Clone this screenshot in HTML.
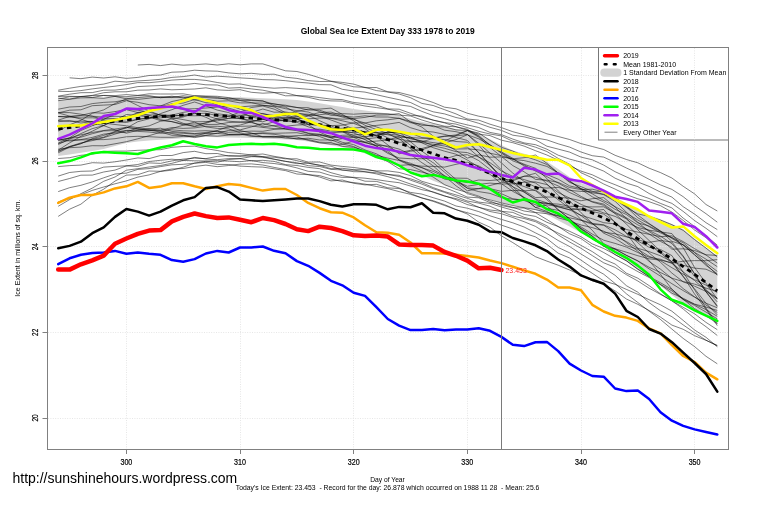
<!DOCTYPE html>
<html><head><meta charset="utf-8"><title>Global Sea Ice Extent Day 333 1978 to 2019</title>
<style>html,body{margin:0;padding:0;background:#fff;}svg{display:block;}text{white-space:pre;}</style></head>
<body><svg width="759" height="505" viewBox="0 0 759 505" font-family="Liberation Sans, Arial, sans-serif">
<rect x="0" y="0" width="759" height="505" fill="#fff"/>
<polygon points="58.2,100.0 69.6,99.3 80.9,98.6 92.3,98.0 103.7,97.4 115.0,97.2 126.4,97.0 137.8,96.7 149.1,96.5 160.5,96.5 171.9,96.5 183.2,96.5 194.6,96.5 205.9,96.6 217.3,96.7 228.7,96.9 240.0,97.2 251.4,97.8 262.8,98.3 274.1,98.8 285.5,99.3 296.9,99.9 308.2,101.4 319.6,103.3 331.0,105.2 342.3,107.1 353.7,108.9 365.0,110.6 376.4,112.1 387.8,113.5 399.1,115.8 410.5,118.8 421.9,121.7 433.2,124.1 444.6,126.5 456.0,128.9 467.3,131.3 478.7,133.7 490.0,139.2 501.4,145.1 512.8,150.5 524.1,153.7 535.5,156.9 546.9,161.5 558.2,168.9 569.6,177.0 581.0,183.0 592.3,186.9 603.7,191.2 615.1,196.5 626.4,203.6 637.8,210.6 649.1,215.2 660.5,219.2 671.9,223.9 683.2,229.0 694.6,238.5 706.0,247.5 717.3,256.0 717.3,323.0 706.0,316.6 694.6,310.1 683.2,303.7 671.9,295.0 660.5,286.1 649.1,277.2 637.8,268.5 626.4,260.6 615.1,252.8 603.7,245.8 592.3,239.3 581.0,232.8 569.6,226.6 558.2,220.6 546.9,214.6 535.5,209.9 524.1,207.3 512.8,205.1 501.4,203.1 490.0,199.3 478.7,195.6 467.3,191.8 456.0,188.6 444.6,185.3 433.2,180.7 421.9,175.3 410.5,170.4 399.1,166.3 387.8,162.2 376.4,157.9 365.0,153.6 353.7,149.3 342.3,147.2 331.0,145.3 319.6,143.3 308.2,141.4 296.9,139.9 285.5,139.4 274.1,139.0 262.8,138.5 251.4,138.1 240.0,137.8 228.7,137.6 217.3,137.3 205.9,137.1 194.6,137.4 183.2,138.2 171.9,139.0 160.5,139.8 149.1,140.6 137.8,141.4 126.4,143.0 115.0,146.0 103.7,149.0 92.3,151.1 80.9,152.7 69.6,154.4 58.2,156.0" fill="#d3d3d3" stroke="none"/>
<path d="M126.5,48 V449 M240.5,48 V449 M353.5,48 V449 M467.5,48 V449 M581.5,48 V449 M694.5,48 V449 M48,75.5 H728 M48,161.5 H728 M48,246.5 H728 M48,332.5 H728 M48,418.5 H728" stroke="#e6e6e6" stroke-width="1" stroke-dasharray="1 1.4" fill="none"/>
<g fill="none" stroke="#000" stroke-opacity="0.56" stroke-width="0.9" stroke-linejoin="round">
<path d="M137.8,65.0 L149.1,64.4 L160.5,65.6 L171.9,64.1 L183.2,65.2 L194.6,64.7 L205.9,63.9 L217.3,65.0 L228.7,63.8 L240.0,64.8 L251.4,63.9 L262.8,63.9 L274.1,67.3 L285.5,70.8 L296.9,71.5 L308.2,74.3 L319.6,77.8 L331.0,81.2 L342.3,82.4 L353.7,84.1 L365.0,87.7 L376.4,87.5 L387.8,91.8 L399.1,92.5 L410.5,95.4 L421.9,98.7 L433.2,102.5 L444.6,107.2 L456.0,108.8 L467.3,113.2 L478.7,116.2 L490.0,118.3 L501.4,121.6 L512.8,123.2 L524.1,126.0 L535.5,129.2 L546.9,133.8 L558.2,136.5 L569.6,139.5 L581.0,143.6 L592.3,146.5 L603.7,149.5 L615.1,155.3 L626.4,159.5 L637.8,162.8 L649.1,168.2 L660.5,172.6 L671.9,178.0 L683.2,186.3 L694.6,193.9 L706.0,204.5 L717.3,211.0"/>
<path d="M69.6,77.8 L80.9,78.7 L92.3,77.1 L103.7,78.0 L115.0,76.8 L126.4,78.4 L137.8,77.4 L149.1,75.5 L160.5,75.0 L171.9,72.2 L183.2,71.8 L194.6,70.2 L205.9,70.9 L217.3,71.2 L228.7,72.9 L240.0,73.8 L251.4,73.3 L262.8,74.4 L274.1,74.2 L285.5,77.2 L296.9,78.4 L308.2,80.6 L319.6,81.5 L331.0,81.4 L342.3,83.9 L353.7,86.8 L365.0,87.3 L376.4,90.6 L387.8,92.0 L399.1,94.0 L410.5,97.7 L421.9,103.4 L433.2,105.5 L444.6,109.7 L456.0,113.9 L467.3,119.0 L478.7,120.1 L490.0,124.2 L501.4,127.6 L512.8,131.7 L524.1,134.7 L535.5,137.9 L546.9,139.9 L558.2,143.8 L569.6,147.1 L581.0,152.0 L592.3,155.7 L603.7,157.1 L615.1,162.5 L626.4,168.0 L637.8,173.3 L649.1,179.3 L660.5,184.9 L671.9,189.4 L683.2,196.7 L694.6,205.8 L706.0,213.7 L717.3,222.2"/>
<path d="M58.2,90.2 L69.6,88.2 L80.9,86.4 L92.3,85.3 L103.7,84.1 L115.0,81.2 L126.4,82.0 L137.8,80.9 L149.1,80.3 L160.5,79.3 L171.9,77.4 L183.2,76.6 L194.6,75.0 L205.9,77.0 L217.3,76.2 L228.7,76.9 L240.0,77.9 L251.4,78.5 L262.8,79.6 L274.1,79.8 L285.5,80.7 L296.9,82.1 L308.2,83.0 L319.6,84.6 L331.0,84.8 L342.3,89.3 L353.7,91.0 L365.0,92.1 L376.4,94.7 L387.8,97.3 L399.1,99.7 L410.5,102.5 L421.9,107.9 L433.2,111.8 L444.6,113.9 L456.0,117.5 L467.3,119.9 L478.7,123.3 L490.0,127.3 L501.4,130.4 L512.8,135.2 L524.1,136.8 L535.5,139.8 L546.9,146.2 L558.2,149.1 L569.6,152.1 L581.0,157.1 L592.3,159.8 L603.7,165.1 L615.1,171.7 L626.4,176.9 L637.8,182.0 L649.1,186.4 L660.5,192.1 L671.9,197.1 L683.2,206.7 L694.6,214.1 L706.0,222.7 L717.3,229.6"/>
<path d="M58.2,91.3 L69.6,91.5 L80.9,90.6 L92.3,88.9 L103.7,87.5 L115.0,86.2 L126.4,84.6 L137.8,82.6 L149.1,82.7 L160.5,81.6 L171.9,80.1 L183.2,79.4 L194.6,79.4 L205.9,80.4 L217.3,82.5 L228.7,84.2 L240.0,83.9 L251.4,86.1 L262.8,87.3 L274.1,88.2 L285.5,87.6 L296.9,88.3 L308.2,89.3 L319.6,90.2 L331.0,91.2 L342.3,94.3 L353.7,97.0 L365.0,98.9 L376.4,99.9 L387.8,102.4 L399.1,104.8 L410.5,106.4 L421.9,111.4 L433.2,115.6 L444.6,118.7 L456.0,122.2 L467.3,124.9 L478.7,127.5 L490.0,132.4 L501.4,134.6 L512.8,139.1 L524.1,142.9 L535.5,144.7 L546.9,149.2 L558.2,155.2 L569.6,159.1 L581.0,162.1 L592.3,166.5 L603.7,171.1 L615.1,178.2 L626.4,183.1 L637.8,186.6 L649.1,193.5 L660.5,199.1 L671.9,203.4 L683.2,211.4 L694.6,220.6 L706.0,228.3 L717.3,236.7"/>
<path d="M58.2,96.2 L69.6,94.2 L80.9,92.7 L92.3,92.6 L103.7,90.2 L115.0,90.1 L126.4,88.8 L137.8,86.6 L149.1,86.0 L160.5,85.5 L171.9,84.7 L183.2,84.9 L194.6,83.4 L205.9,84.8 L217.3,85.0 L228.7,88.1 L240.0,87.6 L251.4,88.9 L262.8,90.2 L274.1,92.5 L285.5,92.8 L296.9,95.6 L308.2,96.0 L319.6,97.6 L331.0,99.1 L342.3,99.6 L353.7,102.5 L365.0,103.7 L376.4,105.0 L387.8,108.9 L399.1,109.2 L410.5,113.3 L421.9,117.3 L433.2,120.2 L444.6,122.9 L456.0,126.7 L467.3,130.2 L478.7,134.1 L490.0,135.6 L501.4,140.2 L512.8,142.7 L524.1,146.1 L535.5,150.7 L546.9,155.0 L558.2,160.2 L569.6,165.7 L581.0,171.1 L592.3,174.8 L603.7,180.3 L615.1,184.7 L626.4,189.4 L637.8,194.5 L649.1,198.5 L660.5,203.4 L671.9,207.9 L683.2,218.1 L694.6,226.5 L706.0,236.0 L717.3,245.1"/>
<path d="M58.2,96.4 L69.6,96.3 L80.9,96.5 L92.3,95.4 L103.7,92.7 L115.0,91.8 L126.4,91.8 L137.8,90.2 L149.1,90.0 L160.5,88.9 L171.9,89.8 L183.2,89.4 L194.6,89.0 L205.9,87.8 L217.3,89.9 L228.7,90.4 L240.0,89.7 L251.4,92.3 L262.8,93.2 L274.1,92.6 L285.5,95.8 L296.9,95.7 L308.2,97.3 L319.6,99.9 L331.0,100.9 L342.3,101.1 L353.7,103.8 L365.0,106.0 L376.4,107.6 L387.8,109.2 L399.1,111.5 L410.5,115.3 L421.9,116.1 L433.2,120.1 L444.6,122.5 L456.0,124.1 L467.3,127.6 L478.7,131.3 L490.0,134.0 L501.4,135.9 L512.8,141.3 L524.1,143.8 L535.5,147.2 L546.9,151.5 L558.2,158.4 L569.6,164.3 L581.0,172.7 L592.3,177.9 L603.7,184.0 L615.1,189.1 L626.4,194.7 L637.8,198.8 L649.1,201.7 L660.5,205.7 L671.9,212.1 L683.2,220.4 L694.6,230.0 L706.0,237.7 L717.3,246.8"/>
<path d="M58.2,181.5 L69.6,178.5 L80.9,175.2 L92.3,175.1 L103.7,172.0 L115.0,170.1 L126.4,165.9 L137.8,166.4 L149.1,162.9 L160.5,163.4 L171.9,160.9 L183.2,159.1 L194.6,158.1 L205.9,158.6 L217.3,156.4 L228.7,155.5 L240.0,156.1 L251.4,154.8 L262.8,154.0 L274.1,156.3 L285.5,158.2 L296.9,160.7 L308.2,163.2 L319.6,165.3 L331.0,168.7 L342.3,168.3 L353.7,169.7 L365.0,169.7 L376.4,170.9 L387.8,170.9 L399.1,172.4 L410.5,175.6 L421.9,181.3 L433.2,184.6 L444.6,187.5 L456.0,192.1 L467.3,197.1 L478.7,197.8 L490.0,202.5 L501.4,204.3 L512.8,207.3 L524.1,211.0 L535.5,212.7 L546.9,219.5 L558.2,226.5 L569.6,233.8 L581.0,238.6 L592.3,246.4 L603.7,252.5 L615.1,259.0 L626.4,265.1 L637.8,271.6 L649.1,277.5 L660.5,284.4 L671.9,290.9 L683.2,299.6 L694.6,305.4 L706.0,312.1 L717.3,318.9"/>
<path d="M58.2,201.9 L69.6,198.6 L80.9,194.8 L92.3,190.4 L103.7,187.0 L115.0,183.8 L126.4,180.9 L137.8,177.1 L149.1,174.9 L160.5,171.4 L171.9,170.2 L183.2,167.2 L194.6,163.1 L205.9,161.3 L217.3,162.2 L228.7,159.5 L240.0,158.6 L251.4,156.7 L262.8,156.7 L274.1,159.1 L285.5,161.3 L296.9,162.7 L308.2,165.7 L319.6,166.5 L331.0,169.4 L342.3,169.9 L353.7,171.7 L365.0,171.8 L376.4,172.8 L387.8,174.5 L399.1,175.3 L410.5,180.2 L421.9,184.1 L433.2,188.7 L444.6,192.4 L456.0,196.6 L467.3,201.0 L478.7,203.1 L490.0,206.2 L501.4,211.3 L512.8,212.4 L524.1,217.3 L535.5,220.4 L546.9,225.8 L558.2,234.9 L569.6,242.0 L581.0,248.3 L592.3,255.6 L603.7,262.8 L615.1,267.4 L626.4,274.7 L637.8,281.0 L649.1,288.2 L660.5,294.4 L671.9,300.8 L683.2,309.0 L694.6,318.5 L706.0,326.7 L717.3,335.5"/>
<path d="M58.2,206.3 L69.6,199.6 L80.9,193.7 L92.3,188.1 L103.7,181.3 L115.0,177.0 L126.4,170.2 L137.8,168.7 L149.1,167.0 L160.5,165.5 L171.9,163.3 L183.2,160.4 L194.6,160.8 L205.9,161.0 L217.3,160.7 L228.7,161.1 L240.0,161.7 L251.4,160.5 L262.8,162.6 L274.1,163.5 L285.5,165.2 L296.9,167.9 L308.2,171.3 L319.6,172.1 L331.0,175.6 L342.3,177.4 L353.7,177.3 L365.0,178.2 L376.4,179.6 L387.8,181.3 L399.1,182.7 L410.5,186.0 L421.9,189.7 L433.2,191.9 L444.6,195.8 L456.0,199.7 L467.3,204.6 L478.7,207.2 L490.0,211.5 L501.4,213.7 L512.8,217.5 L524.1,221.7 L535.5,226.4 L546.9,233.5 L558.2,240.5 L569.6,246.5 L581.0,254.0 L592.3,260.9 L603.7,267.9 L615.1,275.3 L626.4,285.7 L637.8,292.2 L649.1,302.6 L660.5,310.8 L671.9,316.7 L683.2,324.9 L694.6,332.8 L706.0,340.2 L717.3,345.9"/>
<path d="M58.2,216.4 L69.6,209.2 L80.9,204.2 L92.3,195.2 L103.7,189.2 L115.0,181.1 L126.4,175.1 L137.8,174.7 L149.1,171.0 L160.5,171.3 L171.9,169.0 L183.2,168.5 L194.6,166.5 L205.9,165.1 L217.3,166.7 L228.7,165.5 L240.0,164.1 L251.4,163.9 L262.8,165.0 L274.1,167.4 L285.5,169.5 L296.9,171.6 L308.2,174.6 L319.6,177.0 L331.0,180.9 L342.3,180.0 L353.7,183.3 L365.0,184.9 L376.4,184.3 L387.8,187.8 L399.1,188.6 L410.5,192.4 L421.9,194.1 L433.2,197.7 L444.6,201.1 L456.0,206.0 L467.3,208.2 L478.7,211.6 L490.0,215.8 L501.4,219.4 L512.8,222.8 L524.1,227.0 L535.5,232.9 L546.9,238.6 L558.2,247.5 L569.6,252.8 L581.0,260.1 L592.3,267.9 L603.7,274.2 L615.1,283.5 L626.4,293.8 L637.8,302.5 L649.1,311.1 L660.5,319.5 L671.9,329.1 L683.2,338.4 L694.6,346.6 L706.0,356.3 L717.3,363.8"/>
<path d="M58.2,191.6 L69.6,187.7 L80.9,185.3 L92.3,181.9 L103.7,177.8 L115.0,174.0 L126.4,173.1 L137.8,169.4 L149.1,168.6 L160.5,166.6 L171.9,164.8 L183.2,164.3 L194.6,163.2 L205.9,162.4 L217.3,164.4 L228.7,164.5 L240.0,166.1 L251.4,166.7 L262.8,167.1 L274.1,168.8 L285.5,170.6 L296.9,174.0 L308.2,174.7 L319.6,175.6 L331.0,179.0 L342.3,181.6 L353.7,182.5 L365.0,184.1 L376.4,186.5 L387.8,188.6 L399.1,191.6 L410.5,194.3 L421.9,198.0 L433.2,201.4 L444.6,205.5 L456.0,209.7 L467.3,212.7 L478.7,216.1 L490.0,220.4 L501.4,225.1 L512.8,229.0 L524.1,233.2 L535.5,236.9 L546.9,244.4 L558.2,253.2 L569.6,258.0 L581.0,266.0 L592.3,273.3 L603.7,280.9 L615.1,284.3 L626.4,289.4 L637.8,294.3 L649.1,299.7 L660.5,304.8 L671.9,311.2 L683.2,320.4 L694.6,330.0 L706.0,337.3 L717.3,346.8"/>
<path d="M58.2,158.5 L69.6,157.7 L80.9,155.3 L92.3,154.2 L103.7,151.4 L115.0,151.1 L126.4,151.1 L137.8,150.3 L149.1,149.9 L160.5,149.7 L171.9,147.3 L183.2,146.5 L194.6,146.1 L205.9,148.6 L217.3,150.5 L228.7,152.6 L240.0,153.6 L251.4,154.9 L262.8,156.7 L274.1,157.2 L285.5,158.8 L296.9,158.8 L308.2,162.1 L319.6,162.0 L331.0,165.1 L342.3,166.4 L353.7,167.5 L365.0,169.0 L376.4,171.4 L387.8,174.4 L399.1,176.5 L410.5,178.8 L421.9,182.6 L433.2,187.6 L444.6,191.6 L456.0,194.9 L467.3,198.3 L478.7,202.1 L490.0,203.4 L501.4,207.0 L512.8,210.2 L524.1,214.4 L535.5,216.4 L546.9,222.3 L558.2,226.6 L569.6,231.3 L581.0,236.7 L592.3,243.9 L603.7,248.5 L615.1,254.5 L626.4,260.7 L637.8,269.0 L649.1,276.4 L660.5,282.8 L671.9,289.4 L683.2,299.2 L694.6,308.6 L706.0,315.6 L717.3,323.8"/>
<path d="M58.2,166.6 L69.6,165.6 L80.9,165.1 L92.3,162.7 L103.7,163.1 L115.0,161.8 L126.4,160.0 L137.8,157.9 L149.1,158.6 L160.5,155.5 L171.9,155.5 L183.2,152.6 L194.6,151.3 L205.9,153.7 L217.3,153.5 L228.7,156.2 L240.0,156.0 L251.4,156.2 L262.8,157.3 L274.1,159.3 L285.5,161.4 L296.9,163.7 L308.2,163.1 L319.6,165.2 L331.0,166.2 L342.3,170.2 L353.7,170.1 L365.0,171.8 L376.4,173.9 L387.8,176.7 L399.1,180.0 L410.5,184.0 L421.9,187.6 L433.2,192.3 L444.6,196.1 L456.0,198.6 L467.3,202.2 L478.7,207.3 L490.0,210.0 L501.4,211.3 L512.8,216.1 L524.1,218.5 L535.5,221.7 L546.9,227.6 L558.2,233.1 L569.6,238.7 L581.0,245.4 L592.3,251.6 L603.7,259.2 L615.1,264.0 L626.4,273.2 L637.8,278.2 L649.1,285.6 L660.5,293.8 L671.9,300.8 L683.2,307.3 L694.6,313.8 L706.0,322.4 L717.3,329.7"/>
<path d="M58.2,176.1 L69.6,172.5 L80.9,171.3 L92.3,171.0 L103.7,167.1 L115.0,166.4 L126.4,165.8 L137.8,164.5 L149.1,161.5 L160.5,160.3 L171.9,159.2 L183.2,160.3 L194.6,157.4 L205.9,159.0 L217.3,159.7 L228.7,158.6 L240.0,158.7 L251.4,160.9 L262.8,160.3 L274.1,161.4 L285.5,164.6 L296.9,165.5 L308.2,167.4 L319.6,168.7 L331.0,172.7 L342.3,175.7 L353.7,177.7 L365.0,181.2 L376.4,181.4 L387.8,184.6 L399.1,187.9 L410.5,193.5 L421.9,197.9 L433.2,200.7 L444.6,204.7 L456.0,209.5 L467.3,214.0 L478.7,222.1 L490.0,227.2 L501.4,235.8 L512.8,242.6 L524.1,249.8 L535.5,256.7 L546.9,261.1 L558.2,265.2 L569.6,270.0 L581.0,275.0 L592.3,280.9 L603.7,283.9 L615.1,290.9 L626.4,299.0 L637.8,304.3 L649.1,310.5 L660.5,317.1 L671.9,325.1 L683.2,329.3 L694.6,335.7 L706.0,340.3 L717.3,345.3"/>
<path d="M58.2,100.7 L69.6,99.2 L80.9,96.7 L92.3,97.6 L103.7,95.4 L115.0,95.6 L126.4,94.6 L137.8,95.4 L149.1,93.8 L160.5,94.0 L171.9,94.0 L183.2,93.8 L194.6,95.8 L205.9,96.0 L217.3,96.3 L228.7,97.6 L240.0,100.3 L251.4,100.5 L262.8,101.1 L274.1,104.1 L285.5,105.2 L296.9,107.6 L308.2,107.7 L319.6,111.6 L331.0,115.3 L342.3,116.1 L353.7,117.1 L365.0,115.8 L376.4,117.0 L387.8,117.0 L399.1,118.3 L410.5,122.7 L421.9,124.0 L433.2,126.7 L444.6,126.9 L456.0,129.9 L467.3,130.4 L478.7,133.0 L490.0,140.4 L501.4,147.3 L512.8,151.1 L524.1,156.1 L535.5,159.9 L546.9,164.5 L558.2,173.1 L569.6,181.5 L581.0,188.6 L592.3,193.9 L603.7,200.5 L615.1,206.6 L626.4,213.0 L637.8,220.0 L649.1,226.6 L660.5,232.9 L671.9,237.6 L683.2,244.9 L694.6,254.5 L706.0,265.4 L717.3,273.8"/>
<path d="M58.2,99.0 L69.6,96.8 L80.9,96.8 L92.3,95.7 L103.7,95.5 L115.0,96.5 L126.4,96.7 L137.8,95.6 L149.1,95.6 L160.5,97.7 L171.9,97.0 L183.2,97.1 L194.6,100.0 L205.9,99.4 L217.3,101.2 L228.7,100.8 L240.0,102.9 L251.4,102.9 L262.8,103.1 L274.1,103.8 L285.5,106.1 L296.9,107.4 L308.2,110.0 L319.6,110.2 L331.0,114.0 L342.3,113.6 L353.7,114.2 L365.0,113.5 L376.4,113.6 L387.8,113.8 L399.1,115.1 L410.5,116.0 L421.9,120.0 L433.2,123.4 L444.6,126.2 L456.0,126.8 L467.3,129.2 L478.7,136.5 L490.0,144.8 L501.4,151.9 L512.8,158.3 L524.1,166.1 L535.5,170.2 L546.9,174.5 L558.2,179.2 L569.6,185.9 L581.0,188.6 L592.3,192.9 L603.7,194.2 L615.1,199.6 L626.4,207.4 L637.8,213.9 L649.1,216.4 L660.5,220.1 L671.9,224.7 L683.2,230.4 L694.6,239.7 L706.0,248.1 L717.3,257.0"/>
<path d="M58.2,116.5 L69.6,117.2 L80.9,117.9 L92.3,117.8 L103.7,118.7 L115.0,118.5 L126.4,118.8 L137.8,113.2 L149.1,110.4 L160.5,106.0 L171.9,101.5 L183.2,99.2 L194.6,95.8 L205.9,96.5 L217.3,97.4 L228.7,99.8 L240.0,100.6 L251.4,102.6 L262.8,105.3 L274.1,106.1 L285.5,108.7 L296.9,110.6 L308.2,112.0 L319.6,116.6 L331.0,118.1 L342.3,119.2 L353.7,118.6 L365.0,117.4 L376.4,115.1 L387.8,114.8 L399.1,113.6 L410.5,122.0 L421.9,127.1 L433.2,136.1 L444.6,143.9 L456.0,150.5 L467.3,158.1 L478.7,154.8 L490.0,157.2 L501.4,156.9 L512.8,158.8 L524.1,157.7 L535.5,155.0 L546.9,163.3 L558.2,173.0 L569.6,180.7 L581.0,189.4 L592.3,196.8 L603.7,202.1 L615.1,209.3 L626.4,214.5 L637.8,222.8 L649.1,226.1 L660.5,231.5 L671.9,237.6 L683.2,242.7 L694.6,252.7 L706.0,262.8 L717.3,271.4"/>
<path d="M58.2,98.1 L69.6,99.1 L80.9,98.0 L92.3,97.7 L103.7,98.3 L115.0,96.4 L126.4,98.8 L137.8,97.5 L149.1,96.6 L160.5,97.6 L171.9,96.2 L183.2,98.0 L194.6,96.9 L205.9,100.1 L217.3,105.1 L228.7,108.1 L240.0,111.5 L251.4,117.0 L262.8,119.2 L274.1,120.3 L285.5,117.9 L296.9,118.0 L308.2,118.8 L319.6,118.0 L331.0,118.4 L342.3,120.8 L353.7,123.4 L365.0,127.7 L376.4,132.2 L387.8,137.9 L399.1,142.4 L410.5,141.6 L421.9,141.8 L433.2,138.4 L444.6,136.4 L456.0,134.9 L467.3,130.5 L478.7,137.1 L490.0,147.5 L501.4,156.4 L512.8,165.6 L524.1,171.8 L535.5,179.4 L546.9,180.2 L558.2,182.4 L569.6,187.5 L581.0,189.6 L592.3,189.2 L603.7,191.9 L615.1,197.3 L626.4,206.0 L637.8,215.0 L649.1,223.5 L660.5,231.0 L671.9,238.5 L683.2,245.0 L694.6,255.0 L706.0,264.2 L717.3,275.2"/>
<path d="M58.2,112.9 L69.6,110.2 L80.9,109.8 L92.3,105.7 L103.7,105.1 L115.0,104.5 L126.4,100.8 L137.8,102.3 L149.1,104.7 L160.5,105.8 L171.9,107.4 L183.2,109.1 L194.6,108.7 L205.9,108.0 L217.3,107.1 L228.7,105.5 L240.0,106.9 L251.4,106.0 L262.8,105.3 L274.1,106.9 L285.5,112.7 L296.9,116.0 L308.2,119.9 L319.6,125.5 L331.0,129.7 L342.3,129.7 L353.7,130.0 L365.0,132.0 L376.4,132.8 L387.8,134.8 L399.1,137.3 L410.5,137.5 L421.9,138.3 L433.2,137.9 L444.6,136.1 L456.0,135.9 L467.3,134.5 L478.7,143.3 L490.0,153.1 L501.4,162.9 L512.8,173.1 L524.1,181.4 L535.5,187.0 L546.9,188.1 L558.2,187.4 L569.6,190.4 L581.0,191.4 L592.3,191.9 L603.7,191.5 L615.1,198.6 L626.4,206.9 L637.8,217.8 L649.1,224.0 L660.5,231.2 L671.9,241.3 L683.2,244.9 L694.6,252.3 L706.0,259.2 L717.3,266.7"/>
<path d="M58.2,112.6 L69.6,112.6 L80.9,114.2 L92.3,116.2 L103.7,120.1 L115.0,120.3 L126.4,121.3 L137.8,119.3 L149.1,117.7 L160.5,117.9 L171.9,116.3 L183.2,115.0 L194.6,113.7 L205.9,113.2 L217.3,115.7 L228.7,116.4 L240.0,118.8 L251.4,120.2 L262.8,121.8 L274.1,117.9 L285.5,118.1 L296.9,116.3 L308.2,115.4 L319.6,112.5 L331.0,112.1 L342.3,115.5 L353.7,118.9 L365.0,125.3 L376.4,129.5 L387.8,133.5 L399.1,139.3 L410.5,141.0 L421.9,142.5 L433.2,144.3 L444.6,146.0 L456.0,149.0 L467.3,148.8 L478.7,149.9 L490.0,153.2 L501.4,155.7 L512.8,159.3 L524.1,160.6 L535.5,163.2 L546.9,166.4 L558.2,173.1 L569.6,182.4 L581.0,186.7 L592.3,191.3 L603.7,194.7 L615.1,201.3 L626.4,212.2 L637.8,222.2 L649.1,231.5 L660.5,238.9 L671.9,249.2 L683.2,248.8 L694.6,250.5 L706.0,254.8 L717.3,255.4"/>
<path d="M58.2,131.1 L69.6,124.8 L80.9,120.3 L92.3,113.3 L103.7,109.9 L115.0,103.5 L126.4,98.9 L137.8,99.4 L149.1,98.2 L160.5,96.7 L171.9,97.6 L183.2,95.7 L194.6,97.1 L205.9,97.5 L217.3,98.4 L228.7,98.6 L240.0,98.8 L251.4,99.9 L262.8,100.9 L274.1,105.7 L285.5,107.2 L296.9,112.9 L308.2,115.2 L319.6,120.7 L331.0,125.8 L342.3,130.7 L353.7,133.0 L365.0,137.4 L376.4,143.5 L387.8,146.8 L399.1,152.7 L410.5,150.3 L421.9,148.5 L433.2,145.4 L444.6,141.1 L456.0,135.6 L467.3,130.7 L478.7,135.5 L490.0,145.4 L501.4,153.2 L512.8,160.9 L524.1,164.9 L535.5,171.1 L546.9,176.6 L558.2,183.1 L569.6,189.5 L581.0,196.4 L592.3,202.1 L603.7,205.3 L615.1,213.7 L626.4,224.1 L637.8,235.3 L649.1,245.0 L660.5,252.7 L671.9,263.1 L683.2,261.2 L694.6,260.6 L706.0,260.7 L717.3,259.6"/>
<path d="M58.2,109.2 L69.6,107.0 L80.9,106.5 L92.3,103.6 L103.7,102.4 L115.0,101.8 L126.4,99.9 L137.8,105.5 L149.1,111.0 L160.5,115.2 L171.9,118.9 L183.2,123.3 L194.6,126.7 L205.9,124.5 L217.3,124.4 L228.7,122.5 L240.0,122.1 L251.4,121.4 L262.8,119.0 L274.1,116.9 L285.5,114.9 L296.9,111.4 L308.2,109.2 L319.6,109.1 L331.0,108.1 L342.3,114.4 L353.7,120.9 L365.0,128.8 L376.4,136.4 L387.8,144.9 L399.1,153.8 L410.5,151.2 L421.9,149.9 L433.2,145.8 L444.6,143.0 L456.0,139.6 L467.3,134.8 L478.7,138.8 L490.0,144.9 L501.4,152.6 L512.8,159.3 L524.1,164.2 L535.5,168.3 L546.9,178.5 L558.2,190.9 L569.6,200.8 L581.0,212.7 L592.3,223.3 L603.7,233.2 L615.1,238.4 L626.4,245.7 L637.8,249.3 L649.1,256.3 L660.5,260.7 L671.9,267.7 L683.2,274.2 L694.6,279.7 L706.0,285.1 L717.3,292.7"/>
<path d="M58.2,121.7 L69.6,120.5 L80.9,123.0 L92.3,121.6 L103.7,121.1 L115.0,121.9 L126.4,122.5 L137.8,119.3 L149.1,118.2 L160.5,116.3 L171.9,115.1 L183.2,112.4 L194.6,110.5 L205.9,111.3 L217.3,113.7 L228.7,115.2 L240.0,115.2 L251.4,115.5 L262.8,118.2 L274.1,119.1 L285.5,120.6 L296.9,122.3 L308.2,126.8 L319.6,130.0 L331.0,132.7 L342.3,132.2 L353.7,132.4 L365.0,132.6 L376.4,135.2 L387.8,134.0 L399.1,135.3 L410.5,138.3 L421.9,141.0 L433.2,142.6 L444.6,144.2 L456.0,146.6 L467.3,147.1 L478.7,156.9 L490.0,165.6 L501.4,176.6 L512.8,183.4 L524.1,190.7 L535.5,197.6 L546.9,197.0 L558.2,197.2 L569.6,198.3 L581.0,200.8 L592.3,198.7 L603.7,197.6 L615.1,207.1 L626.4,218.7 L637.8,229.8 L649.1,240.5 L660.5,251.1 L671.9,261.9 L683.2,265.3 L694.6,268.1 L706.0,269.2 L717.3,274.4"/>
<path d="M58.2,140.5 L69.6,138.2 L80.9,137.2 L92.3,133.7 L103.7,130.9 L115.0,130.6 L126.4,128.2 L137.8,121.7 L149.1,118.8 L160.5,113.6 L171.9,109.7 L183.2,105.3 L194.6,102.0 L205.9,105.8 L217.3,110.1 L228.7,112.6 L240.0,118.1 L251.4,122.0 L262.8,126.8 L274.1,125.6 L285.5,126.3 L296.9,125.0 L308.2,124.6 L319.6,125.2 L331.0,125.6 L342.3,125.2 L353.7,122.8 L365.0,123.0 L376.4,120.8 L387.8,119.8 L399.1,118.3 L410.5,121.4 L421.9,125.3 L433.2,125.6 L444.6,130.2 L456.0,131.7 L467.3,134.4 L478.7,145.0 L490.0,158.4 L501.4,169.8 L512.8,180.9 L524.1,191.8 L535.5,199.1 L546.9,202.9 L558.2,207.0 L569.6,209.8 L581.0,215.3 L592.3,218.8 L603.7,222.7 L615.1,223.9 L626.4,229.5 L637.8,232.1 L649.1,234.3 L660.5,236.7 L671.9,235.8 L683.2,241.6 L694.6,248.7 L706.0,255.0 L717.3,263.1"/>
<path d="M58.2,116.5 L69.6,116.6 L80.9,115.8 L92.3,116.2 L103.7,117.2 L115.0,116.3 L126.4,116.6 L137.8,115.2 L149.1,115.0 L160.5,114.8 L171.9,115.5 L183.2,115.5 L194.6,115.8 L205.9,115.5 L217.3,119.0 L228.7,121.2 L240.0,122.1 L251.4,122.6 L262.8,125.1 L274.1,121.8 L285.5,119.6 L296.9,118.8 L308.2,116.1 L319.6,114.7 L331.0,113.5 L342.3,117.0 L353.7,119.4 L365.0,123.1 L376.4,126.9 L387.8,131.0 L399.1,135.3 L410.5,138.8 L421.9,141.1 L433.2,145.8 L444.6,148.3 L456.0,151.7 L467.3,152.6 L478.7,157.0 L490.0,162.7 L501.4,170.9 L512.8,176.4 L524.1,179.6 L535.5,183.0 L546.9,191.0 L558.2,199.8 L569.6,208.2 L581.0,215.7 L592.3,223.7 L603.7,232.2 L615.1,233.8 L626.4,236.9 L637.8,240.1 L649.1,242.3 L660.5,240.5 L671.9,242.0 L683.2,256.0 L694.6,273.6 L706.0,291.8 L717.3,306.7"/>
<path d="M58.2,144.5 L69.6,139.1 L80.9,133.6 L92.3,128.6 L103.7,125.6 L115.0,119.7 L126.4,117.7 L137.8,112.4 L149.1,111.4 L160.5,106.7 L171.9,103.8 L183.2,103.1 L194.6,99.5 L205.9,102.7 L217.3,103.3 L228.7,105.0 L240.0,109.1 L251.4,111.2 L262.8,113.8 L274.1,115.5 L285.5,115.8 L296.9,119.3 L308.2,122.4 L319.6,125.0 L331.0,129.5 L342.3,131.6 L353.7,137.4 L365.0,142.2 L376.4,146.1 L387.8,152.1 L399.1,159.9 L410.5,164.5 L421.9,167.5 L433.2,173.4 L444.6,179.1 L456.0,181.0 L467.3,186.2 L478.7,184.4 L490.0,183.1 L501.4,184.0 L512.8,183.8 L524.1,182.2 L535.5,181.9 L546.9,184.6 L558.2,192.5 L569.6,198.1 L581.0,204.4 L592.3,208.8 L603.7,212.9 L615.1,216.4 L626.4,222.3 L637.8,227.5 L649.1,230.2 L660.5,231.9 L671.9,233.6 L683.2,247.7 L694.6,267.5 L706.0,283.2 L717.3,299.1"/>
<path d="M58.2,120.5 L69.6,121.4 L80.9,121.2 L92.3,121.5 L103.7,123.1 L115.0,124.5 L126.4,125.8 L137.8,127.7 L149.1,129.2 L160.5,128.2 L171.9,131.4 L183.2,132.4 L194.6,133.6 L205.9,132.4 L217.3,131.2 L228.7,132.3 L240.0,131.7 L251.4,131.1 L262.8,131.3 L274.1,129.4 L285.5,128.3 L296.9,129.0 L308.2,130.0 L319.6,129.1 L331.0,131.1 L342.3,131.6 L353.7,129.8 L365.0,131.8 L376.4,132.7 L387.8,132.5 L399.1,132.5 L410.5,136.9 L421.9,142.9 L433.2,147.7 L444.6,151.2 L456.0,154.2 L467.3,160.0 L478.7,167.1 L490.0,174.3 L501.4,183.7 L512.8,191.4 L524.1,197.3 L535.5,202.7 L546.9,203.3 L558.2,205.9 L569.6,207.8 L581.0,210.1 L592.3,211.5 L603.7,214.1 L615.1,222.0 L626.4,232.8 L637.8,242.7 L649.1,253.0 L660.5,262.3 L671.9,273.1 L683.2,281.8 L694.6,286.2 L706.0,291.4 L717.3,298.7"/>
<path d="M58.2,143.1 L69.6,137.8 L80.9,130.5 L92.3,125.7 L103.7,119.4 L115.0,114.1 L126.4,109.4 L137.8,110.2 L149.1,112.2 L160.5,115.2 L171.9,117.6 L183.2,119.6 L194.6,121.8 L205.9,121.6 L217.3,120.9 L228.7,118.4 L240.0,118.3 L251.4,116.9 L262.8,113.5 L274.1,116.7 L285.5,118.0 L296.9,119.1 L308.2,124.1 L319.6,125.3 L331.0,129.2 L342.3,128.3 L353.7,128.1 L365.0,127.0 L376.4,125.4 L387.8,124.2 L399.1,122.4 L410.5,127.7 L421.9,131.1 L433.2,132.0 L444.6,134.4 L456.0,137.5 L467.3,140.4 L478.7,152.6 L490.0,165.4 L501.4,177.8 L512.8,186.5 L524.1,197.9 L535.5,207.4 L546.9,211.4 L558.2,217.8 L569.6,221.0 L581.0,226.8 L592.3,234.1 L603.7,240.2 L615.1,243.4 L626.4,247.1 L637.8,252.5 L649.1,257.2 L660.5,259.3 L671.9,263.4 L683.2,271.9 L694.6,280.6 L706.0,290.4 L717.3,298.1"/>
<path d="M58.2,120.2 L69.6,116.4 L80.9,115.4 L92.3,112.7 L103.7,113.2 L115.0,111.6 L126.4,109.7 L137.8,112.5 L149.1,115.3 L160.5,119.6 L171.9,121.7 L183.2,124.8 L194.6,126.2 L205.9,122.6 L217.3,118.4 L228.7,116.3 L240.0,112.1 L251.4,107.5 L262.8,106.0 L274.1,109.1 L285.5,114.3 L296.9,118.5 L308.2,124.6 L319.6,132.2 L331.0,137.0 L342.3,135.3 L353.7,134.9 L365.0,134.4 L376.4,135.2 L387.8,132.0 L399.1,133.3 L410.5,133.1 L421.9,137.6 L433.2,139.0 L444.6,139.5 L456.0,141.5 L467.3,142.2 L478.7,152.5 L490.0,164.8 L501.4,177.3 L512.8,189.2 L524.1,198.4 L535.5,207.5 L546.9,204.8 L558.2,206.5 L569.6,209.8 L581.0,208.8 L592.3,210.7 L603.7,209.5 L615.1,222.7 L626.4,233.2 L637.8,248.5 L649.1,260.6 L660.5,274.3 L671.9,289.2 L683.2,299.2 L694.6,304.4 L706.0,309.6 L717.3,316.3"/>
<path d="M58.2,150.2 L69.6,142.9 L80.9,136.3 L92.3,131.2 L103.7,125.5 L115.0,120.3 L126.4,114.5 L137.8,115.5 L149.1,117.0 L160.5,120.6 L171.9,121.6 L183.2,124.1 L194.6,124.0 L205.9,123.3 L217.3,119.5 L228.7,118.3 L240.0,115.9 L251.4,112.5 L262.8,109.0 L274.1,112.2 L285.5,112.0 L296.9,113.9 L308.2,114.2 L319.6,116.1 L331.0,120.0 L342.3,124.2 L353.7,129.1 L365.0,136.5 L376.4,144.2 L387.8,150.4 L399.1,159.9 L410.5,163.3 L421.9,167.8 L433.2,171.4 L444.6,176.8 L456.0,179.8 L467.3,182.7 L478.7,180.0 L490.0,180.5 L501.4,179.5 L512.8,179.6 L524.1,176.2 L535.5,177.2 L546.9,181.1 L558.2,185.9 L569.6,192.5 L581.0,197.7 L592.3,201.5 L603.7,204.1 L615.1,212.3 L626.4,217.7 L637.8,224.9 L649.1,230.5 L660.5,236.2 L671.9,243.6 L683.2,256.8 L694.6,274.0 L706.0,291.8 L717.3,305.8"/>
<path d="M58.2,112.9 L69.6,116.1 L80.9,119.1 L92.3,123.2 L103.7,125.6 L115.0,129.8 L126.4,133.2 L137.8,130.3 L149.1,130.5 L160.5,130.0 L171.9,127.6 L183.2,128.4 L194.6,127.9 L205.9,126.3 L217.3,126.3 L228.7,127.2 L240.0,126.3 L251.4,126.0 L262.8,127.4 L274.1,128.6 L285.5,129.2 L296.9,130.7 L308.2,133.4 L319.6,136.5 L331.0,140.8 L342.3,138.6 L353.7,137.3 L365.0,136.7 L376.4,135.7 L387.8,132.1 L399.1,131.9 L410.5,141.8 L421.9,151.1 L433.2,159.3 L444.6,169.7 L456.0,179.5 L467.3,188.3 L478.7,191.6 L490.0,193.4 L501.4,197.5 L512.8,199.3 L524.1,199.6 L535.5,201.9 L546.9,203.4 L558.2,204.1 L569.6,206.3 L581.0,206.6 L592.3,206.9 L603.7,206.8 L615.1,213.2 L626.4,218.9 L637.8,228.4 L649.1,234.0 L660.5,241.4 L671.9,247.2 L683.2,260.9 L694.6,276.5 L706.0,289.6 L717.3,301.9"/>
<path d="M58.2,140.0 L69.6,137.9 L80.9,134.8 L92.3,132.5 L103.7,130.5 L115.0,129.0 L126.4,127.4 L137.8,128.6 L149.1,130.0 L160.5,131.0 L171.9,133.5 L183.2,135.5 L194.6,136.1 L205.9,133.2 L217.3,130.5 L228.7,126.5 L240.0,125.1 L251.4,121.7 L262.8,119.4 L274.1,120.4 L285.5,120.8 L296.9,121.3 L308.2,122.8 L319.6,124.8 L331.0,127.6 L342.3,131.1 L353.7,135.6 L365.0,139.6 L376.4,146.1 L387.8,153.4 L399.1,158.0 L410.5,158.7 L421.9,158.7 L433.2,158.2 L444.6,159.1 L456.0,155.5 L467.3,154.7 L478.7,160.6 L490.0,169.4 L501.4,180.5 L512.8,186.8 L524.1,192.2 L535.5,199.7 L546.9,206.2 L558.2,214.7 L569.6,220.9 L581.0,228.9 L592.3,238.7 L603.7,246.3 L615.1,249.4 L626.4,255.3 L637.8,260.8 L649.1,267.3 L660.5,272.5 L671.9,278.2 L683.2,281.6 L694.6,284.1 L706.0,288.1 L717.3,291.6"/>
<path d="M58.2,150.9 L69.6,146.5 L80.9,142.9 L92.3,140.6 L103.7,137.7 L115.0,134.1 L126.4,130.6 L137.8,131.4 L149.1,132.0 L160.5,133.3 L171.9,132.6 L183.2,133.3 L194.6,134.1 L205.9,133.6 L217.3,133.4 L228.7,134.5 L240.0,134.6 L251.4,133.7 L262.8,133.5 L274.1,134.3 L285.5,136.0 L296.9,137.0 L308.2,140.4 L319.6,142.9 L331.0,144.1 L342.3,144.4 L353.7,141.0 L365.0,142.1 L376.4,141.1 L387.8,140.0 L399.1,136.5 L410.5,145.3 L421.9,155.5 L433.2,162.7 L444.6,172.2 L456.0,182.2 L467.3,190.8 L478.7,188.6 L490.0,185.5 L501.4,182.6 L512.8,180.9 L524.1,176.3 L535.5,173.3 L546.9,184.0 L558.2,195.4 L569.6,207.6 L581.0,219.6 L592.3,230.3 L603.7,243.7 L615.1,248.9 L626.4,255.4 L637.8,261.0 L649.1,268.9 L660.5,276.2 L671.9,283.7 L683.2,290.6 L694.6,297.2 L706.0,303.2 L717.3,307.8"/>
<path d="M58.2,139.4 L69.6,141.0 L80.9,139.9 L92.3,139.7 L103.7,139.6 L115.0,138.7 L126.4,136.8 L137.8,136.3 L149.1,136.7 L160.5,137.3 L171.9,137.3 L183.2,136.4 L194.6,136.4 L205.9,135.4 L217.3,133.2 L228.7,130.4 L240.0,129.9 L251.4,126.9 L262.8,123.4 L274.1,126.1 L285.5,128.9 L296.9,129.5 L308.2,133.1 L319.6,134.2 L331.0,137.9 L342.3,142.3 L353.7,144.6 L365.0,149.9 L376.4,153.8 L387.8,159.9 L399.1,165.4 L410.5,164.7 L421.9,166.2 L433.2,166.4 L444.6,167.1 L456.0,164.3 L467.3,162.1 L478.7,165.9 L490.0,172.0 L501.4,179.6 L512.8,182.7 L524.1,186.5 L535.5,190.8 L546.9,199.7 L558.2,210.0 L569.6,219.0 L581.0,228.8 L592.3,236.3 L603.7,246.0 L615.1,254.6 L626.4,260.9 L637.8,269.3 L649.1,276.6 L660.5,284.6 L671.9,293.2 L683.2,298.3 L694.6,304.1 L706.0,307.1 L717.3,310.4"/>
<path d="M58.2,143.5 L69.6,140.1 L80.9,139.6 L92.3,137.4 L103.7,134.1 L115.0,133.0 L126.4,132.1 L137.8,127.8 L149.1,125.9 L160.5,121.2 L171.9,118.8 L183.2,117.0 L194.6,113.2 L205.9,117.3 L217.3,122.7 L228.7,125.7 L240.0,130.5 L251.4,133.0 L262.8,136.8 L274.1,137.4 L285.5,137.0 L296.9,139.1 L308.2,138.2 L319.6,140.0 L331.0,139.9 L342.3,143.9 L353.7,146.5 L365.0,151.7 L376.4,156.1 L387.8,161.6 L399.1,168.8 L410.5,169.6 L421.9,172.1 L433.2,175.1 L444.6,177.4 L456.0,178.1 L467.3,178.3 L478.7,184.6 L490.0,189.0 L501.4,193.7 L512.8,198.8 L524.1,200.5 L535.5,204.7 L546.9,208.4 L558.2,210.3 L569.6,215.2 L581.0,220.0 L592.3,223.3 L603.7,224.9 L615.1,229.8 L626.4,236.4 L637.8,241.0 L649.1,247.2 L660.5,249.5 L671.9,255.6 L683.2,272.2 L694.6,289.9 L706.0,308.0 L717.3,323.8"/>
<path d="M58.2,151.6 L69.6,146.6 L80.9,143.7 L92.3,138.6 L103.7,135.4 L115.0,131.5 L126.4,127.3 L137.8,129.3 L149.1,130.2 L160.5,132.0 L171.9,135.3 L183.2,135.3 L194.6,137.6 L205.9,135.6 L217.3,136.2 L228.7,135.1 L240.0,134.9 L251.4,133.8 L262.8,132.8 L274.1,133.3 L285.5,133.0 L296.9,132.7 L308.2,134.9 L319.6,134.7 L331.0,136.0 L342.3,138.5 L353.7,139.5 L365.0,142.7 L376.4,145.3 L387.8,146.0 L399.1,149.1 L410.5,154.4 L421.9,162.7 L433.2,169.8 L444.6,175.7 L456.0,181.5 L467.3,187.9 L478.7,188.7 L490.0,188.6 L501.4,191.4 L512.8,190.3 L524.1,190.9 L535.5,190.0 L546.9,197.9 L558.2,209.6 L569.6,218.8 L581.0,228.1 L592.3,236.0 L603.7,245.9 L615.1,248.8 L626.4,252.2 L637.8,255.7 L649.1,258.8 L660.5,260.2 L671.9,262.7 L683.2,276.7 L694.6,288.8 L706.0,303.3 L717.3,314.9"/>
<path d="M58.2,152.8 L69.6,147.1 L80.9,143.6 L92.3,139.2 L103.7,137.2 L115.0,132.0 L126.4,130.4 L137.8,130.2 L149.1,128.6 L160.5,130.4 L171.9,129.8 L183.2,130.8 L194.6,131.1 L205.9,130.7 L217.3,131.2 L228.7,134.4 L240.0,134.0 L251.4,136.4 L262.8,136.8 L274.1,136.6 L285.5,136.5 L296.9,135.6 L308.2,135.5 L319.6,135.2 L331.0,137.6 L342.3,136.6 L353.7,136.7 L365.0,139.0 L376.4,137.7 L387.8,139.9 L399.1,138.6 L410.5,148.5 L421.9,157.8 L433.2,165.9 L444.6,176.1 L456.0,185.8 L467.3,193.6 L478.7,197.0 L490.0,199.8 L501.4,202.9 L512.8,205.5 L524.1,207.7 L535.5,209.6 L546.9,212.3 L558.2,215.6 L569.6,221.1 L581.0,225.0 L592.3,227.6 L603.7,231.2 L615.1,236.3 L626.4,241.6 L637.8,248.3 L649.1,251.6 L660.5,255.8 L671.9,261.6 L683.2,276.2 L694.6,294.0 L706.0,309.3 L717.3,325.7"/>
<path d="M58.2,149.2 L69.6,147.7 L80.9,147.1 L92.3,145.7 L103.7,145.8 L115.0,143.8 L126.4,141.7 L137.8,138.8 L149.1,135.7 L160.5,132.2 L171.9,128.5 L183.2,125.2 L194.6,122.1 L205.9,126.9 L217.3,128.4 L228.7,128.9 L240.0,132.8 L251.4,135.6 L262.8,136.8 L274.1,136.3 L285.5,138.1 L296.9,138.6 L308.2,139.5 L319.6,142.2 L331.0,142.5 L342.3,146.4 L353.7,147.3 L365.0,150.9 L376.4,155.3 L387.8,158.1 L399.1,160.5 L410.5,165.5 L421.9,171.0 L433.2,177.1 L444.6,184.7 L456.0,189.3 L467.3,192.4 L478.7,196.0 L490.0,201.1 L501.4,205.5 L512.8,207.8 L524.1,208.0 L535.5,212.4 L546.9,213.7 L558.2,216.0 L569.6,217.8 L581.0,220.3 L592.3,224.3 L603.7,225.2 L615.1,233.1 L626.4,242.6 L637.8,251.2 L649.1,261.4 L660.5,269.2 L671.9,278.4 L683.2,288.6 L694.6,296.8 L706.0,305.1 L717.3,312.5"/>
</g>
<path d="M58.2,129.0 L69.6,127.5 L80.9,125.8 L92.3,124.1 L103.7,122.6 L115.0,121.3 L126.4,119.9 L137.8,118.5 L149.1,117.0 L160.5,116.5 L171.9,116.0 L183.2,115.0 L194.6,114.0 L205.9,114.7 L217.3,115.4 L228.7,116.4 L240.0,117.3 L251.4,118.2 L262.8,119.0 L274.1,119.7 L285.5,120.4 L296.9,121.5 L308.2,122.8 L319.6,124.7 L331.0,126.6 L342.3,128.3 L353.7,130.0 L365.0,133.0 L376.4,136.1 L387.8,139.7 L399.1,143.3 L410.5,146.7 L421.9,150.0 L433.2,153.7 L444.6,157.7 L456.0,160.3 L467.3,163.8 L478.7,168.3 L490.0,173.4 L501.4,178.5 L512.8,181.7 L524.1,184.1 L535.5,187.4 L546.9,192.1 L558.2,197.5 L569.6,202.8 L581.0,208.0 L592.3,213.0 L603.7,218.0 L615.1,223.7 L626.4,231.3 L637.8,238.8 L649.1,245.3 L660.5,252.0 L671.9,258.7 L683.2,266.6 L694.6,274.4 L706.0,282.4 L717.3,290.8" fill="none" stroke="#000" stroke-width="2.8" stroke-dasharray="4.5 4.2" />
<path d="M58.2,126.2 L69.6,125.4 L80.9,125.4 L92.3,123.7 L103.7,122.0 L115.0,120.0 L126.4,117.8 L137.8,115.3 L149.1,111.0 L160.5,108.5 L171.9,105.0 L183.2,100.7 L194.6,97.4 L205.9,100.4 L217.3,103.2 L228.7,105.5 L240.0,107.1 L251.4,110.2 L262.8,116.5 L274.1,115.7 L285.5,113.9 L296.9,113.9 L308.2,120.5 L319.6,125.5 L331.0,129.2 L342.3,130.0 L353.7,128.6 L365.0,134.3 L376.4,129.8 L387.8,129.8 L399.1,131.7 L410.5,133.8 L421.9,134.3 L433.2,137.0 L444.6,142.5 L456.0,147.5 L467.3,145.0 L478.7,144.2 L490.0,147.0 L501.4,150.0 L512.8,153.0 L524.1,155.5 L535.5,157.2 L546.9,159.8 L558.2,159.8 L569.6,165.5 L581.0,178.0 L592.3,185.0 L603.7,191.6 L615.1,199.5 L626.4,204.5 L637.8,209.5 L649.1,216.5 L660.5,222.0 L671.9,227.5 L683.2,226.4 L694.6,236.2 L706.0,244.9 L717.3,253.3" fill="none" stroke="#ffff00" stroke-width="2.5" stroke-linejoin="round" stroke-linecap="round"/>
<path d="M58.2,138.9 L69.6,134.7 L80.9,129.1 L92.3,123.4 L103.7,116.1 L115.0,114.0 L126.4,108.6 L137.8,109.1 L149.1,108.0 L160.5,107.3 L171.9,106.5 L183.2,108.8 L194.6,112.0 L205.9,105.0 L217.3,105.8 L228.7,110.2 L240.0,112.3 L251.4,112.9 L262.8,117.0 L274.1,122.2 L285.5,127.0 L296.9,129.5 L308.2,130.0 L319.6,131.0 L331.0,133.2 L342.3,137.5 L353.7,141.5 L365.0,145.7 L376.4,148.1 L387.8,149.4 L399.1,151.8 L410.5,155.1 L421.9,156.5 L433.2,157.8 L444.6,159.2 L456.0,161.6 L467.3,165.2 L478.7,168.5 L490.0,171.9 L501.4,175.0 L512.8,177.5 L524.1,167.8 L535.5,169.6 L546.9,174.3 L558.2,173.4 L569.6,179.6 L581.0,181.2 L592.3,185.5 L603.7,190.7 L615.1,196.7 L626.4,199.0 L637.8,201.9 L649.1,210.6 L660.5,211.7 L671.9,213.3 L683.2,223.8 L694.6,227.0 L706.0,236.2 L717.3,247.5" fill="none" stroke="#a020f0" stroke-width="2.5" stroke-linejoin="round" stroke-linecap="round"/>
<path d="M58.2,163.3 L69.6,161.1 L80.9,157.4 L92.3,153.2 L103.7,152.0 L115.0,152.7 L126.4,153.2 L137.8,154.0 L149.1,150.5 L160.5,147.5 L171.9,145.3 L183.2,141.3 L194.6,144.0 L205.9,146.2 L217.3,147.4 L228.7,145.0 L240.0,144.2 L251.4,143.8 L262.8,144.3 L274.1,143.8 L285.5,145.0 L296.9,147.3 L308.2,147.8 L319.6,149.1 L331.0,149.3 L342.3,149.3 L353.7,149.5 L365.0,151.5 L376.4,157.0 L387.8,160.0 L399.1,165.5 L410.5,172.5 L421.9,176.2 L433.2,174.9 L444.6,177.5 L456.0,180.5 L467.3,181.6 L478.7,183.7 L490.0,189.0 L501.4,196.5 L512.8,202.5 L524.1,199.3 L535.5,202.0 L546.9,209.2 L558.2,213.5 L569.6,220.8 L581.0,231.5 L592.3,238.3 L603.7,244.8 L615.1,252.0 L626.4,257.8 L637.8,265.6 L649.1,274.8 L660.5,289.3 L671.9,299.8 L683.2,303.8 L694.6,310.4 L706.0,315.6 L717.3,320.9" fill="none" stroke="#00ff00" stroke-width="2.5" stroke-linejoin="round" stroke-linecap="round"/>
<path d="M58.2,264.1 L69.6,258.3 L80.9,254.8 L92.3,253.0 L103.7,252.5 L115.0,250.9 L126.4,253.8 L137.8,252.5 L149.1,253.8 L160.5,254.8 L171.9,260.1 L183.2,261.7 L194.6,259.1 L205.9,253.5 L217.3,250.9 L228.7,252.5 L240.0,247.5 L251.4,247.5 L262.8,246.5 L274.1,250.8 L285.5,253.2 L296.9,261.1 L308.2,265.8 L319.6,272.9 L331.0,280.8 L342.3,285.3 L353.7,292.7 L365.0,295.9 L376.4,307.2 L387.8,319.0 L399.1,325.6 L410.5,330.1 L421.9,330.1 L433.2,329.0 L444.6,330.3 L456.0,329.5 L467.3,329.5 L478.7,328.2 L490.0,330.8 L501.4,336.9 L512.8,344.8 L524.1,346.1 L535.5,342.2 L546.9,341.9 L558.2,351.1 L569.6,363.6 L581.0,370.5 L592.3,376.0 L603.7,376.7 L615.1,388.5 L626.4,391.1 L637.8,390.6 L649.1,399.0 L660.5,412.2 L671.9,420.7 L683.2,425.9 L694.6,429.4 L706.0,432.0 L717.3,434.5" fill="none" stroke="#0000ff" stroke-width="2.5" stroke-linejoin="round" stroke-linecap="round"/>
<path d="M58.2,202.9 L69.6,197.7 L80.9,195.0 L92.3,195.0 L103.7,192.4 L115.0,188.4 L126.4,186.3 L137.8,181.9 L149.1,187.9 L160.5,186.6 L171.9,183.2 L183.2,183.2 L194.6,186.3 L205.9,189.0 L217.3,186.3 L228.7,184.0 L240.0,185.0 L251.4,187.9 L262.8,190.6 L274.1,189.0 L285.5,189.0 L296.9,195.0 L308.2,202.9 L319.6,208.2 L331.0,212.2 L342.3,212.7 L353.7,217.4 L365.0,225.3 L376.4,232.2 L387.8,232.8 L399.1,234.8 L410.5,242.5 L421.9,253.3 L433.2,253.3 L444.6,253.4 L456.0,254.8 L467.3,256.0 L478.7,257.5 L490.0,260.5 L501.4,263.1 L512.8,266.8 L524.1,270.4 L535.5,273.8 L546.9,279.6 L558.2,287.5 L569.6,287.5 L581.0,290.3 L592.3,304.8 L603.7,311.5 L615.1,315.8 L626.4,317.6 L637.8,320.9 L649.1,328.4 L660.5,333.4 L671.9,345.0 L683.2,356.0 L694.6,362.0 L706.0,372.7 L717.3,379.3" fill="none" stroke="#ffa500" stroke-width="2.5" stroke-linejoin="round" stroke-linecap="round"/>
<path d="M58.2,248.3 L69.6,245.9 L80.9,241.7 L92.3,233.2 L103.7,227.4 L115.0,216.9 L126.4,209.0 L137.8,211.6 L149.1,215.6 L160.5,211.6 L171.9,205.6 L183.2,200.3 L194.6,197.1 L205.9,187.9 L217.3,187.1 L228.7,191.6 L240.0,199.5 L251.4,200.3 L262.8,201.1 L274.1,200.3 L285.5,199.5 L296.9,198.5 L308.2,198.5 L319.6,201.1 L331.0,204.8 L342.3,206.4 L353.7,204.3 L365.0,204.3 L376.4,204.8 L387.8,209.3 L399.1,206.9 L410.5,207.2 L421.9,203.3 L433.2,212.8 L444.6,213.3 L456.0,218.6 L467.3,220.8 L478.7,224.8 L490.0,231.6 L501.4,232.2 L512.8,238.0 L524.1,241.4 L535.5,245.3 L546.9,251.1 L558.2,259.5 L569.6,266.6 L581.0,275.4 L592.3,279.8 L603.7,283.7 L615.1,293.6 L626.4,310.8 L637.8,317.0 L649.1,329.0 L660.5,333.6 L671.9,342.2 L683.2,352.7 L694.6,363.0 L706.0,374.0 L717.3,391.7" fill="none" stroke="#000000" stroke-width="2.5" stroke-linejoin="round" stroke-linecap="round"/>
<path d="M58.2,269.6 L69.6,269.6 L80.9,264.3 L92.3,260.4 L103.7,255.6 L115.0,243.8 L126.4,238.5 L137.8,233.8 L149.1,230.6 L160.5,230.1 L171.9,221.4 L183.2,216.9 L194.6,213.5 L205.9,216.1 L217.3,218.0 L228.7,217.4 L240.0,219.8 L251.4,222.2 L262.8,218.0 L274.1,220.1 L285.5,224.0 L296.9,229.3 L308.2,231.1 L319.6,226.7 L331.0,228.0 L342.3,231.1 L353.7,235.3 L365.0,235.9 L376.4,235.6 L387.8,236.6 L399.1,244.4 L410.5,245.1 L421.9,245.1 L433.2,245.6 L444.6,252.0 L456.0,255.8 L467.3,260.6 L478.7,268.3 L490.0,267.8 L501.4,270.0" fill="none" stroke="#ff0000" stroke-width="4.5" stroke-linejoin="round" stroke-linecap="round"/>
<path d="M501.5,48 V449" stroke="#7a7a7a" stroke-width="1"/>
<text x="505.5" y="272.6" font-size="7.2" fill="#ff2020" textLength="21.3" lengthAdjust="spacingAndGlyphs">23.453</text>
<rect x="598.5" y="47.5" width="130" height="92.5" fill="#fff" stroke="#777" stroke-width="1"/>
<path d="M604.5,55.7 H617.5" stroke="#ff0000" stroke-width="3.4" stroke-linecap="round"/>
<text x="623.2" y="58.3" font-size="7" fill="#000">2019</text>
<path d="M604.7,64.2 H606.6 M613.8,64.2 H615.7" stroke="#000" stroke-width="2.4" stroke-linecap="round"/>
<text x="623.2" y="66.8" font-size="7" fill="#000">Mean 1981-2010</text>
<rect x="600.3" y="68.6" width="21.2" height="8.2" rx="4.1" fill="#d3d3d3"/>
<text x="623.2" y="75.3" font-size="7" fill="#000">1 Standard Deviation From Mean</text>
<path d="M604.5,81.2 H617.5" stroke="#000" stroke-width="2.5" stroke-linecap="round"/>
<text x="623.2" y="83.8" font-size="7" fill="#000">2018</text>
<path d="M604.5,89.7 H617.5" stroke="#ffa500" stroke-width="2.5" stroke-linecap="round"/>
<text x="623.2" y="92.3" font-size="7" fill="#000">2017</text>
<path d="M604.5,98.2 H617.5" stroke="#0000ff" stroke-width="2.5" stroke-linecap="round"/>
<text x="623.2" y="100.8" font-size="7" fill="#000">2016</text>
<path d="M604.5,106.7 H617.5" stroke="#00ff00" stroke-width="2.5" stroke-linecap="round"/>
<text x="623.2" y="109.3" font-size="7" fill="#000">2015</text>
<path d="M604.5,115.2 H617.5" stroke="#a020f0" stroke-width="2.5" stroke-linecap="round"/>
<text x="623.2" y="117.8" font-size="7" fill="#000">2014</text>
<path d="M604.5,123.7 H617.5" stroke="#ffff00" stroke-width="2.5" stroke-linecap="round"/>
<text x="623.2" y="126.3" font-size="7" fill="#000">2013</text>
<path d="M604.5,132.2 H617.5" stroke="#808080" stroke-width="1" stroke-linecap="butt"/>
<text x="623.2" y="134.8" font-size="7" fill="#000">Every Other Year</text>
<path d="M694.5,48 V139.5" stroke="#e6e6e6" stroke-width="1" stroke-dasharray="1 1.4"/>
<rect x="47.5" y="47.5" width="681" height="402" fill="none" stroke="#808080" stroke-width="1"/>
<path d="M126.5,450 V454 M240.5,450 V454 M353.5,450 V454 M467.5,450 V454 M581.5,450 V454 M694.5,450 V454 M42.5,75.5 H47 M42.5,161.5 H47 M42.5,246.5 H47 M42.5,332.5 H47 M42.5,418.5 H47" stroke="#808080" stroke-width="1"/>
<text x="126.4" y="464.8" font-size="8.4" text-anchor="middle" textLength="11.9" stroke="#000" stroke-width="0.2" lengthAdjust="spacingAndGlyphs">300</text>
<text x="240.0" y="464.8" font-size="8.4" text-anchor="middle" textLength="11.9" stroke="#000" stroke-width="0.2" lengthAdjust="spacingAndGlyphs">310</text>
<text x="353.7" y="464.8" font-size="8.4" text-anchor="middle" textLength="11.9" stroke="#000" stroke-width="0.2" lengthAdjust="spacingAndGlyphs">320</text>
<text x="467.3" y="464.8" font-size="8.4" text-anchor="middle" textLength="11.9" stroke="#000" stroke-width="0.2" lengthAdjust="spacingAndGlyphs">330</text>
<text x="581.0" y="464.8" font-size="8.4" text-anchor="middle" textLength="11.9" stroke="#000" stroke-width="0.2" lengthAdjust="spacingAndGlyphs">340</text>
<text x="694.6" y="464.8" font-size="8.4" text-anchor="middle" textLength="11.9" stroke="#000" stroke-width="0.2" lengthAdjust="spacingAndGlyphs">350</text>
<text transform="translate(38.2,75.4) rotate(-90)" x="0" y="0" font-size="8.6" text-anchor="middle" textLength="7.2" stroke="#000" stroke-width="0.2" lengthAdjust="spacingAndGlyphs">28</text>
<text transform="translate(38.2,161.0) rotate(-90)" x="0" y="0" font-size="8.6" text-anchor="middle" textLength="7.2" stroke="#000" stroke-width="0.2" lengthAdjust="spacingAndGlyphs">26</text>
<text transform="translate(38.2,246.7) rotate(-90)" x="0" y="0" font-size="8.6" text-anchor="middle" textLength="7.2" stroke="#000" stroke-width="0.2" lengthAdjust="spacingAndGlyphs">24</text>
<text transform="translate(38.2,332.3) rotate(-90)" x="0" y="0" font-size="8.6" text-anchor="middle" textLength="7.2" stroke="#000" stroke-width="0.2" lengthAdjust="spacingAndGlyphs">22</text>
<text transform="translate(38.2,417.9) rotate(-90)" x="0" y="0" font-size="8.6" text-anchor="middle" textLength="7.2" stroke="#000" stroke-width="0.2" lengthAdjust="spacingAndGlyphs">20</text>
<text x="387.7" y="33.6" font-size="8.6" font-weight="bold" text-anchor="middle" textLength="174" lengthAdjust="spacingAndGlyphs">Global Sea Ice Extent Day 333 1978 to 2019</text>
<text x="387.5" y="481.6" font-size="8" text-anchor="middle" textLength="34.7" lengthAdjust="spacingAndGlyphs">Day of Year</text>
<text x="235.8" y="490" font-size="8" textLength="303.6" lengthAdjust="spacingAndGlyphs">Today's Ice Extent: 23.453  - Record for the day: 26.878 which occurred on 1988 11 28  - Mean: 25.6</text>
<text transform="translate(20.4,248.2) rotate(-90)" x="0" y="0" font-size="8" text-anchor="middle" textLength="97" lengthAdjust="spacingAndGlyphs">Ice Extent in millions of sq. km.</text>
<text x="12.5" y="482.6" font-size="14" fill="#000" textLength="224.7" lengthAdjust="spacingAndGlyphs">http://sunshinehours.wordpress.com</text>
</svg></body></html>
